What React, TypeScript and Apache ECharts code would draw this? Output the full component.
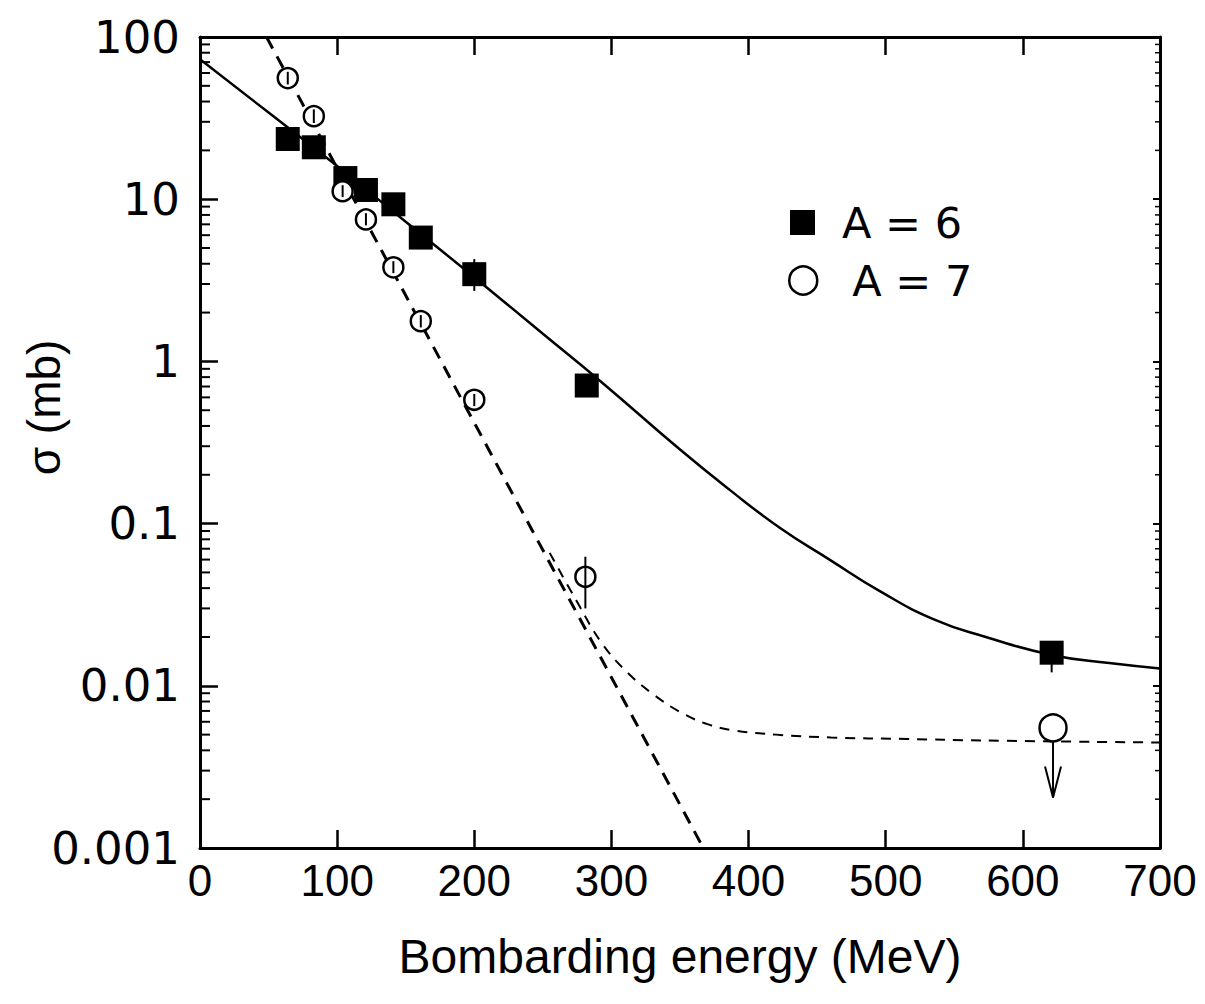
import React, { useEffect, useRef } from "react";
import * as echarts from "echarts";

// ---- axis ticks ----
const xTickValues = [0, 100, 200, 300, 400, 500, 600, 700];
const yMinorTickValues = [
  0.002, 0.003, 0.004, 0.005, 0.006, 0.007, 0.008, 0.009,
  0.02, 0.03, 0.04, 0.05, 0.06, 0.07, 0.08, 0.09,
  0.2, 0.3, 0.4, 0.5, 0.6, 0.7, 0.8, 0.9,
  2, 3, 4, 5, 6, 7, 8, 9,
  20, 30, 40, 50, 60, 70, 80, 90,
];

// ---- A = 6 data (filled squares) ----
const a6Energy = [64, 83, 106, 121, 141, 161, 200, 282, 621];
const a6Sigma = [23.5, 20.9, 13.5, 11.4, 9.3, 5.8, 3.45, 0.71, 0.016];
const a6ErrEnergy = [200, 621];
const a6ErrLow = [2.72, 0.0121];
const a6ErrHigh = [4.27, 0.0188];

// ---- A = 7 data (open circles) ----
const a7Energy = [64, 83, 104, 121, 141, 161, 200, 281, 622];
const a7Sigma = [55.8, 32.5, 11.2, 7.5, 3.8, 1.77, 0.58, 0.047, 0.0055];
const a7ErrEnergy = [64, 83, 104, 121, 141, 161, 200, 281];
const a7ErrLow = [51, 29.5, 10.3, 6.9, 3.5, 1.62, 0.53, 0.03];
const a7ErrHigh = [61, 35.8, 12.2, 8.2, 4.15, 1.93, 0.63, 0.0625];
const a7LimitEnergy = [622];
const a7LimitTop = [0.0055];
const a7LimitBottom = [0.00205];

// ---- fitted curves ----
const fitA6Energy = [0, 50, 100, 150, 200, 250, 292, 350, 386, 423, 459, 496, 536, 573, 621, 663, 700];
const fitA6Sigma = [73, 34.2, 16, 7.26, 3.3, 1.48, 0.755, 0.286, 0.162, 0.094, 0.06, 0.0382, 0.0255, 0.02, 0.0155, 0.0138, 0.0128];

const fitA7SteepEnergy = [48.5, 367];
const fitA7SteepSigma = [100, 0.001];

const fitA7FlatEnergy = [255, 274, 293, 312, 331, 350, 370, 390, 420, 460, 515, 570, 700];
const fitA7FlatSigma = [0.066, 0.034, 0.0183, 0.012, 0.0088, 0.0069, 0.0058, 0.0053, 0.005, 0.0048, 0.0047, 0.0046, 0.00447];

const zip = (a: number[], b: number[]) => a.map((v, i) => [v, b[i]]);

export default function App() {
  const ref = useRef<HTMLDivElement>(null);

  useEffect(() => {
    if (!ref.current) return;
    const chart = echarts.init(ref.current, undefined, { renderer: "svg" });

    const black = "#000";
    const errRender = (params: any, api: any) => {
      const x = api.value(0);
      const p1 = api.coord([x, api.value(1)]);
      const p2 = api.coord([x, api.value(2)]);
      return {
        type: "line",
        shape: { x1: p1[0], y1: p1[1], x2: p2[0], y2: p2[1] },
        style: { stroke: black, lineWidth: 2 },
      };
    };

    const option: any = {
      animation: false,
      backgroundColor: "#fff",
      grid: { left: 200, right: 45, top: 37, bottom: 156, containLabel: false, outerBoundsMode: "none" },
      legend: [
        {
          data: ["A = 6"],
          left: 785,
          top: 196,
          itemWidth: 25,
          itemHeight: 25,
          itemGap: 0,
          textStyle: { fontSize: 43, fontFamily: "DejaVu Sans", color: black, padding: [0, 0, 0, 22] },
          selectedMode: false,
        },
        {
          data: ["A = 7"],
          left: 783,
          top: 254,
          itemWidth: 28,
          itemHeight: 28,
          itemGap: 0,
          itemStyle: { borderWidth: 2.5 },
          textStyle: { fontSize: 43, fontFamily: "DejaVu Sans", color: black, padding: [0, 0, 0, 30] },
          selectedMode: false,
        },
      ],
      xAxis: [
        {
          type: "value",
          min: 0,
          max: 700,
          interval: 100,
          position: "bottom",
          name: "Bombarding energy (MeV)",
          nameLocation: "middle",
          nameGap: 84,
          nameMoveOverlap: false,
          nameTextStyle: { fontSize: 48, fontFamily: "Liberation Sans", color: black },
          axisLine: { show: true, onZero: false, lineStyle: { color: black, width: 3 } },
          axisTick: { show: true, inside: true, length: 18, lineStyle: { color: black, width: 2.5 } },
          axisLabel: {
            show: true,
            margin: 10,
            fontSize: 44,
            fontFamily: "Liberation Sans",
            color: black,
            formatter: (v: number) => (xTickValues.includes(v) ? String(v) : ""),
          },
          splitLine: { show: false },
        },
        {
          type: "value",
          min: 0,
          max: 700,
          interval: 100,
          position: "top",
          axisLine: { show: true, onZero: false, lineStyle: { color: black, width: 3 } },
          axisTick: { show: true, inside: true, length: 18, lineStyle: { color: black, width: 2.5 } },
          axisLabel: { show: false },
          splitLine: { show: false },
        },
      ],
      yAxis: [
        {
          type: "log",
          logBase: 10,
          min: 0.001,
          max: 100,
          position: "left",
          name: "σ (mb)",
          nameLocation: "middle",
          nameGap: 133,
          nameRotate: 90,
          nameMoveOverlap: false,
          nameTextStyle: { fontSize: 46, fontFamily: "Liberation Sans", color: black, padding: [0, 0, 0, 70] },
          axisLine: { show: true, onZero: false, lineStyle: { color: black, width: 3 } },
          axisTick: { show: true, inside: true, length: 18, lineStyle: { color: black, width: 2.5 } },
          axisLabel: { margin: 20, fontSize: 45, fontFamily: "DejaVu Sans", color: black },
          splitLine: { show: false },
          minorTick: { show: false },
        },
        {
          type: "log",
          logBase: 10,
          min: 0.001,
          max: 100,
          position: "right",
          axisLine: { show: true, onZero: false, lineStyle: { color: black, width: 3 } },
          axisTick: { show: true, inside: true, length: 7, lineStyle: { color: black, width: 2 } },
          axisLabel: { show: false },
          splitLine: { show: false },
        },
      ],
      series: [
        {
          name: "minorTicks",
          type: "custom",
          silent: true,
          xAxisIndex: 0,
          yAxisIndex: 0,
          data: yMinorTickValues.map((v) => [0, v]),
          renderItem: (params: any, api: any) => {
            const y = api.coord([0, api.value(1)])[1];
            const cs = params.coordSys;
            return {
              type: "group",
              children: [
                { type: "line", shape: { x1: cs.x, y1: y, x2: cs.x + 10, y2: y }, style: { stroke: black, lineWidth: 2 } },
                { type: "line", shape: { x1: cs.x + cs.width, y1: y, x2: cs.x + cs.width - 5, y2: y }, style: { stroke: black, lineWidth: 1.5 } },
              ],
            };
          },
          z: 1,
        },
        {
          name: "fitA6",
          type: "line",
          data: zip(fitA6Energy, fitA6Sigma),
          smooth: 0.5,
          showSymbol: false,
          symbol: "none",
          lineStyle: { color: black, width: 2.5 },
          z: 2,
        },
        {
          name: "fitA7Steep",
          type: "line",
          data: zip(fitA7SteepEnergy, fitA7SteepSigma),
          showSymbol: false,
          symbol: "none",
          lineStyle: { color: black, width: 3, type: [13, 9] },
          z: 2,
        },
        {
          name: "fitA7Flat",
          type: "line",
          data: zip(fitA7FlatEnergy, fitA7FlatSigma),
          smooth: 0.4,
          showSymbol: false,
          symbol: "none",
          lineStyle: { color: black, width: 2, type: [10, 8] },
          z: 2,
        },
        {
          name: "A = 6",
          type: "scatter",
          data: zip(a6Energy, a6Sigma),
          symbol: "rect",
          symbolSize: 24,
          itemStyle: { color: black, opacity: 1 },
          z: 4,
        },
        {
          name: "A = 7",
          type: "scatter",
          data: zip(a7Energy, a7Sigma),
          symbol: "circle",
          symbolSize: (_v: any, p: any) => (p.dataIndex === a7Energy.length - 1 ? 27 : 20),
          itemStyle: { color: "#fff", borderColor: black, borderWidth: 2.5, opacity: 1 },
          z: 4,
        },
        {
          name: "errA6",
          type: "custom",
          silent: true,
          data: a6ErrEnergy.map((e, i) => [e, a6ErrLow[i], a6ErrHigh[i]]),
          encode: { x: 0, y: [1, 2] },
          renderItem: errRender,
          z: 5,
        },
        {
          name: "errA7",
          type: "custom",
          silent: true,
          data: a7ErrEnergy.map((e, i) => [e, a7ErrLow[i], a7ErrHigh[i]]),
          encode: { x: 0, y: [1, 2] },
          renderItem: errRender,
          z: 5,
        },
        {
          name: "limitA7",
          type: "custom",
          silent: true,
          data: a7LimitEnergy.map((e, i) => [e, a7LimitTop[i], a7LimitBottom[i]]),
          encode: { x: 0, y: [1, 2] },
          renderItem: (params: any, api: any) => {
            const x = api.value(0);
            const top = api.coord([x, api.value(1)]);
            const bot = api.coord([x, api.value(2)]);
            const r = 13.5;
            return {
              type: "group",
              children: [
                { type: "line", shape: { x1: top[0], y1: top[1] + r, x2: bot[0], y2: bot[1] }, style: { stroke: black, lineWidth: 2 } },
                {
                  type: "polyline",
                  shape: { points: [[bot[0] - 8, bot[1] - 31], [bot[0], bot[1]], [bot[0] + 8, bot[1] - 31]] },
                  style: { stroke: black, lineWidth: 2, fill: null },
                },
              ],
            };
          },
          z: 3,
        },
      ],
    };

    chart.setOption(option);
    return () => chart.dispose();
  }, []);

  return (
    <div
      ref={ref}
      style={{ position: "absolute", left: 0, top: 0, width: 1205, height: 1004, background: "#fff" }}
    />
  );
}
